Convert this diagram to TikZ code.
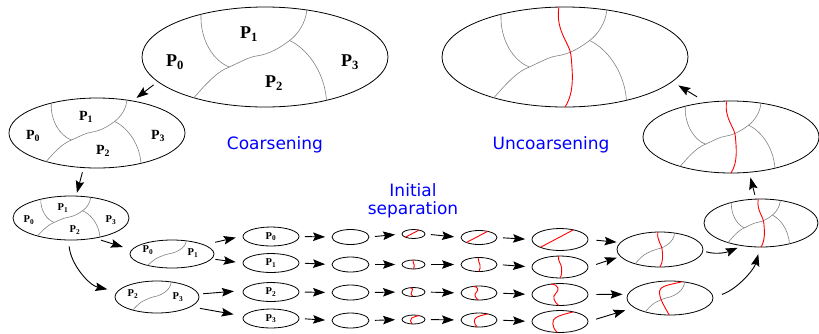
\documentclass[tikz,border=0pt]{standalone}
\usepackage{fontspec}
\newfontfamily\lblfont{Liberation Serif}
\newfontfamily\phasefont{DejaVu Sans}
\usetikzlibrary{shapes.geometric, arrows.meta}

\begin{document}
\begin{tikzpicture}[x=1pt, y=-1pt,
        blob/.style={ellipse, draw, line width=0.8pt, inner sep=0pt},
        part/.style={black!50, line width=0.6pt},
        cut/.style={red, line width=0.9pt},
        arrow/.style={-{Stealth[length=12pt, width=8.5pt, inset=2pt]}, line width=0.9pt},
        colarrow/.style={arrow, shorten <=5.5pt, shorten >=6.5pt},
        phase/.style={text=blue, font=\phasefont\fontsize{17}{18}\selectfont, align=center},
        biglbl/.style={font=\lblfont\bfseries\fontsize{18}{18}\selectfont, inner sep=0pt},
        midlbl/.style={font=\lblfont\bfseries\fontsize{14}{14}\selectfont, inner sep=0pt},
        smalllbl/.style={font=\lblfont\bfseries\fontsize{10.5}{10.5}\selectfont, inner sep=0pt},
        fourway/.pic={
            \draw[part] (-0.52,-0.855) .. controls (-0.53,-0.35) and (-0.42,0.08) .. (-0.29,0.2);
            \draw[part] (-0.58,0.82) .. controls (-0.5,0.6) and (-0.4,0.3) .. (-0.29,0.2)
                .. controls (-0.2,0.1) and (-0.13,0.0) .. (-0.07,-0.02)
                .. controls (0.05,-0.06) and (0.14,-0.22) .. (0.2,-0.33)
                .. controls (0.27,-0.46) and (0.33,-0.68) .. (0.34,-0.94);
            \draw[part] (0.2,-0.33) .. controls (0.33,-0.18) and (0.48,0.25) .. (0.5,0.865);
        },
        twoway/.pic={
            \draw[part] (-0.58,0.82) .. controls (-0.5,0.6) and (-0.4,0.3) .. (-0.29,0.2)
                .. controls (-0.2,0.1) and (-0.13,0.0) .. (-0.07,-0.02)
                .. controls (0.05,-0.06) and (0.14,-0.22) .. (0.2,-0.33)
                .. controls (0.27,-0.46) and (0.33,-0.68) .. (0.34,-0.94);
        },
        redwave/.pic={
            \draw[cut] (-0.05,-0.99) .. controls (-0.08,-0.5) and (0.05,-0.25) .. (0.05,0)
                .. controls (0.06,0.3) and (0.08,0.7) .. (0,1);
        },
        reddiag/.pic={
            \draw[cut] (-0.7,0.71) -- (0.48,-0.88);
        },
        redess/.pic={
            \draw[cut] (-0.32,-0.95) .. controls (-0.05,-0.9) and (0,-0.45) .. (-0.15,-0.1)
                .. controls (-0.3,0.2) and (-0.2,0.7) .. (-0.04,1);
        },
        redhook/.pic={
            \draw[cut] (-0.1,0.995) .. controls (-0.3,0.5) and (-0.3,-0.15) .. (-0.15,-0.35)
                .. controls (0,-0.6) and (0.3,-0.75) .. (0.48,-0.88);
        },
        redbend/.pic={
            \draw[cut] (0.28,-0.96) .. controls (0.05,-0.8) and (-0.22,-0.75) .. (-0.24,-0.42)
                .. controls (-0.27,0) and (-0.1,0.6) .. (-0.02,1);
        }
    ]
    \useasboundingbox (0,0) rectangle (819,333);

    % Coarsening
    \node[blob, minimum width=246pt, minimum height=100pt] (e1) at (265,57) {};
    \node[blob, minimum width=176pt, minimum height=70pt] (e2) at (97,133) {};
    \node[blob, minimum width=116pt, minimum height=44pt] (e3) at (71,218) {};
    \node[blob, minimum width=84pt, minimum height=28pt] (e4) at (172,254) {};
    \node[blob, minimum width=84pt, minimum height=32pt] (e5) at (157,297) {};

    \pic[xscale=123, yscale=50] at (e1) {fourway};
    \pic[xscale=88, yscale=35] at (e2) {fourway};
    \pic[xscale=58, yscale=22] at (e3) {fourway};
    \pic[xscale=42, yscale=14] at (e4) {twoway};
    \pic[xscale=42, yscale=16] at (e5) {twoway};

    \node[biglbl] (e1p0) at (175,62) {P\textsubscript{0}};
    \node[biglbl] (e1p1) at (249,34) {P\textsubscript{1}};
    \node[biglbl] (e1p2) at (274,83) {P\textsubscript{2}};
    \node[biglbl] (e1p3) at (350,62) {P\textsubscript{3}};

    \node[midlbl] (e2p0) at (33,136) {P\textsubscript{0}};
    \node[midlbl] (e2p1) at (86,117) {P\textsubscript{1}};
    \node[midlbl] (e2p2) at (103,151) {P\textsubscript{2}};
    \node[midlbl] (e2p3) at (158,136) {P\textsubscript{3}};

    \node[smalllbl] (e3p0) at (29,220) {P\textsubscript{0}};
    \node[smalllbl] (e3p1) at (63,208) {P\textsubscript{1}};
    \node[smalllbl] (e3p2) at (75,230) {P\textsubscript{2}};
    \node[smalllbl] (e3p3) at (111,220) {P\textsubscript{3}};

    \node[smalllbl] (e4p0) at (148,250) {P\textsubscript{0}};
    \node[smalllbl] (e4p1) at (193,253) {P\textsubscript{1}};
    \node[smalllbl] (e5p2) at (133,294) {P\textsubscript{2}};
    \node[smalllbl] (e5p3) at (178,297) {P\textsubscript{3}};

    \draw[arrow, shorten <=5pt, shorten >=4.5pt] (e1.193) -- (e2.42);
    \draw[arrow, shorten <=4.5pt, shorten >=3pt] (e2.249) -- (e3.77);
    \draw[arrow, shorten <=6pt, shorten >=9pt] (e3.320) -- (e4.174);
    \draw[arrow, shorten <=6pt, shorten >=10pt] (e3.264) .. controls +(2,24) and +(-28,-6) .. (e5.172);

    % Initial separation, one row per part
    \node[blob, minimum width=56pt, minimum height=19pt] (a0) at (271,236.5) {};
    \node[blob, minimum width=56pt, minimum height=19pt] (a1) at (271,263) {};
    \node[blob, minimum width=56pt, minimum height=19pt] (a2) at (271,292) {};
    \node[blob, minimum width=56pt, minimum height=19pt] (a3) at (271,318.5) {};
    \node[smalllbl] at (a0) {P\textsubscript{0}};
    \node[smalllbl] at (a1) {P\textsubscript{1}};
    \node[smalllbl] at (a2) {P\textsubscript{2}};
    \node[smalllbl] at (a3) {P\textsubscript{3}};

    \node[blob, minimum width=37pt, minimum height=15pt] (b0) at (350.5,237) {};
    \node[blob, minimum width=37pt, minimum height=15pt] (b1) at (350.5,264.5) {};
    \node[blob, minimum width=37pt, minimum height=15pt] (b2) at (350.5,292.5) {};
    \node[blob, minimum width=37pt, minimum height=15pt] (b3) at (350.5,320.5) {};

    \node[blob, minimum width=23pt, minimum height=9pt] (c0) at (413.5,234) {};
    \node[blob, minimum width=23pt, minimum height=9pt] (c1) at (413.5,264.5) {};
    \node[blob, minimum width=23pt, minimum height=9pt] (c2) at (413.5,292) {};
    \node[blob, minimum width=23pt, minimum height=9pt] (c3) at (413.5,319.5) {};
    \pic[xscale=11.5, yscale=4.5] at (c0) {reddiag};
    \pic[xscale=11.5, yscale=4.5] at (c1) {redwave};
    \pic[xscale=11.5, yscale=4.5] at (c2) {redess};
    \pic[xscale=11.5, yscale=4.5] at (c3) {redhook};

    \node[blob, minimum width=36pt, minimum height=14pt] (d0) at (479,237.5) {};
    \node[blob, minimum width=36pt, minimum height=14pt] (d1) at (479,264.5) {};
    \node[blob, minimum width=36pt, minimum height=14pt] (d2) at (479,293) {};
    \node[blob, minimum width=36pt, minimum height=14pt] (d3) at (479,320) {};
    \pic[xscale=18, yscale=7] at (d0) {reddiag};
    \pic[xscale=18, yscale=7] at (d1) {redwave};
    \pic[xscale=18, yscale=7] at (d2) {redess};
    \pic[xscale=18, yscale=7] at (d3) {redhook};

    \node[blob, minimum width=56pt, minimum height=22pt] (f0) at (560,239.5) {};
    \node[blob, minimum width=56pt, minimum height=22pt] (f1) at (560,267) {};
    \node[blob, minimum width=56pt, minimum height=22pt] (f2) at (560,294.5) {};
    \node[blob, minimum width=56pt, minimum height=22pt] (f3) at (560,321.5) {};
    \pic[xscale=28, yscale=11] at (f0) {reddiag};
    \pic[xscale=28, yscale=11] at (f1) {redwave};
    \pic[xscale=28, yscale=11] at (f2) {redess};
    \pic[xscale=28, yscale=11] at (f3) {redhook};

    \draw[arrow, shorten <=11pt, shorten >=7pt] (e4.16) -- (a0.179);
    \draw[arrow, shorten <=3.5pt, shorten >=7pt] (e4.353) -- (a1.180);
    \draw[arrow, shorten <=4.5pt, shorten >=9pt] (e5.4) -- (a2.177);
    \draw[arrow, shorten <=9pt, shorten >=10pt] (e5.344) -- (a3.175);

    \draw[colarrow] (a0.east) -- (b0.west);
    \draw[colarrow] (a1.east) -- (b1.west);
    \draw[colarrow] (a2.east) -- (b2.west);
    \draw[colarrow] (a3.east) -- (b3.west);
    \draw[colarrow] (b0.east) -- (c0.west);
    \draw[colarrow] (b1.east) -- (c1.west);
    \draw[colarrow] (b2.east) -- (c2.west);
    \draw[colarrow] (b3.east) -- (c3.west);
    \draw[colarrow] (c0.east) -- (d0.west);
    \draw[colarrow] (c1.east) -- (d1.west);
    \draw[colarrow] (c2.east) -- (d2.west);
    \draw[colarrow] (c3.east) -- (d3.west);
    \draw[colarrow] (d0.east) -- (f0.west);
    \draw[colarrow] (d1.east) -- (f1.west);
    \draw[colarrow] (d2.east) -- (f2.west);
    \draw[colarrow] (d3.east) -- (f3.west);

    % Uncoarsening
    \node[blob, minimum width=86pt, minimum height=35pt] (e6) at (660,249.5) {};
    \node[blob, minimum width=86pt, minimum height=34pt] (e7) at (670,298) {};
    \node[blob, minimum width=114pt, minimum height=48pt] (e8) at (761,223) {};
    \node[blob, minimum width=176pt, minimum height=72pt] (e9) at (731,137) {};
    \node[blob, minimum width=246pt, minimum height=100pt] (e10) at (565,57) {};

    \pic[xscale=43, yscale=17.5] at (e6) {twoway};
    \pic[xscale=43, yscale=17.5] at (e6) {redwave};
    \pic[xscale=43, yscale=17] at (e7) {twoway};
    \pic[xscale=43, yscale=17] at (e7) {redbend};
    \pic[xscale=57, yscale=24] at (e8) {fourway};
    \pic[xscale=57, yscale=24] at (e8) {redwave};
    \pic[xscale=88, yscale=36] at (e9) {fourway};
    \pic[xscale=88, yscale=36] at (e9) {redwave};
    \pic[xscale=123, yscale=50] at (e10) {fourway};
    \pic[xscale=123, yscale=50] at (e10) {redwave};

    \draw[arrow, shorten <=8pt, shorten >=3.5pt] (f0.east) -- (e6.170);
    \draw[arrow, shorten <=8pt, shorten >=3.5pt] (f1.east) -- (e6.190);
    \draw[arrow, shorten <=8pt, shorten >=5pt] (f2.east) -- (e7.175);
    \draw[arrow, shorten <=8pt, shorten >=9pt] (f3.east) -- (e7.195);
    \draw[arrow, shorten <=3pt, shorten >=4.5pt] (e6.358) .. controls +(14,4) and +(-14,6) .. (e8.230);
    \draw[arrow, shorten <=9pt, shorten >=7pt] (e7.1) .. controls +(24,-8) and +(-6,22) .. (e8.268);
    \draw[arrow, shorten <=4pt, shorten >=5pt] (e8.102) -- (e9.297);
    \draw[arrow, shorten <=10pt, shorten >=7pt] (e9.126) -- (e10.347);

    % Phase names
    \node[phase] (coarse) at (275,145) {Coarsening};
    \node[phase] (uncoarse) at (551,145) {Uncoarsening};
    \node[phase] (init) at (413,201) {Initial\\separation};

\end{tikzpicture}
\end{document}
